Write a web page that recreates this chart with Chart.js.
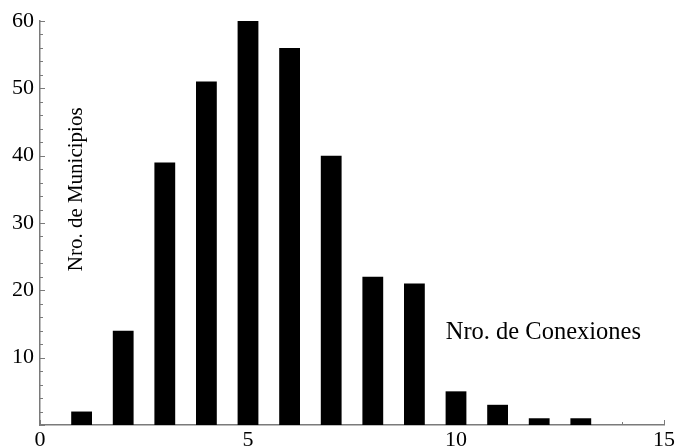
<!DOCTYPE html>
<html>
<head>
<meta charset="utf-8">
<script src="https://cdn.jsdelivr.net/npm/chart.js@4"></script>
<style>
  html, body { margin: 0; padding: 0; background: #fff; }
  #wrap { width: 677px; height: 447px; }
</style>
</head>
<body>
<div id="wrap"><canvas id="histChart"></canvas></div>
<script>
// conexiones por municipio
var conexiones = [1, 2, 3, 4, 5, 6, 7, 8, 9, 10, 11, 12, 13];
var municipios = [2, 14, 39, 51, 60, 56, 40, 22, 21, 5, 3, 1, 1];
var xTicks = [0, 5, 10, 15];
var yTicks = [10, 20, 30, 40, 50, 60];

var fuente = '"Liberation Serif", "Times New Roman", serif';
var gris = '#7a7a7a';

// marcas de escala hacia adentro + textos dentro del grafico
var marcasPlugin = {
    id: 'marcas',
    beforeDatasetsDraw: function (chart) {
        var ctx = chart.ctx;
        var xs = chart.scales.x, ys = chart.scales.y;
        var area = chart.chartArea;
        ctx.save();
        ctx.strokeStyle = gris;
        ctx.lineWidth = 1;
        for (var v = 0; v <= 60; v += 2) {
            var py = Math.round(ys.getPixelForValue(v)) + 0.5;
            var len = (v % 10 === 0) ? 5 : 3;
            ctx.beginPath();
            ctx.moveTo(area.left, py);
            ctx.lineTo(area.left + len, py);
            ctx.stroke();
        }
        for (var u = 0; u <= 15; u += 1) {
            var px = Math.round(xs.getPixelForValue(u)) + 0.5;
            var l = (u % 5 === 0) ? 5 : 3;
            ctx.beginPath();
            ctx.moveTo(px, area.bottom);
            ctx.lineTo(px, area.bottom - l);
            ctx.stroke();
        }
        ctx.restore();
    },
    afterDatasetsDraw: function (chart) {
        var ctx = chart.ctx;
        var xs = chart.scales.x, ys = chart.scales.y;
        ctx.save();
        ctx.fillStyle = '#000';
        ctx.textAlign = 'center';
        ctx.textBaseline = 'middle';
        ctx.font = '24.5px ' + fuente;
        ctx.fillText('Nro. de Conexiones', xs.getPixelForValue(12.1), ys.getPixelForValue(13.7));
        ctx.font = '21px ' + fuente;
        ctx.translate(xs.getPixelForValue(0.87), ys.getPixelForValue(35));
        ctx.rotate(-Math.PI / 2);
        ctx.fillText('Nro. de Municipios', 0, 0);
        ctx.restore();
    }
};

var ctx = document.getElementById('histChart').getContext('2d');
var histChart = new Chart(ctx, {
    type: 'bar',
    data: {
        datasets: [{
            data: conexiones.map(function (c, i) { return { x: c, y: municipios[i] }; }),
            backgroundColor: '#000',
            borderWidth: 0,
            barPercentage: 0.5,
            categoryPercentage: 1.0
        }]
    },
    options: {
        responsive: true,
        maintainAspectRatio: false,
        animation: false,
        layout: { padding: { top: 21, right: 11, left: 0, bottom: 0 } },
        plugins: {
            legend: { display: false },
            tooltip: { enabled: false }
        },
        scales: {
            x: {
                type: 'linear',
                min: 0,
                max: 15,
                offset: false,
                afterBuildTicks: function (scale) {
                    scale.ticks = xTicks.map(function (v) { return { value: v }; });
                },
                afterFit: function (scale) { scale.height = 22; },
                grid: { drawOnChartArea: false, drawTicks: false, offset: false },
                border: { color: gris, width: 1.5 },
                ticks: {
                    color: '#000',
                    padding: 2,
                    maxRotation: 0,
                    font: { family: fuente, size: 22 }
                }
            },
            y: {
                min: 0,
                max: 60,
                afterBuildTicks: function (scale) {
                    scale.ticks = yTicks.map(function (v) { return { value: v }; });
                },
                afterFit: function (scale) { scale.width = 40; },
                grid: { drawOnChartArea: false, drawTicks: false },
                border: { color: gris, width: 1.5 },
                ticks: {
                    color: '#000',
                    padding: 6,
                    font: { family: fuente, size: 22 }
                }
            }
        }
    },
    plugins: [marcasPlugin]
});
</script>
</body>
</html>
